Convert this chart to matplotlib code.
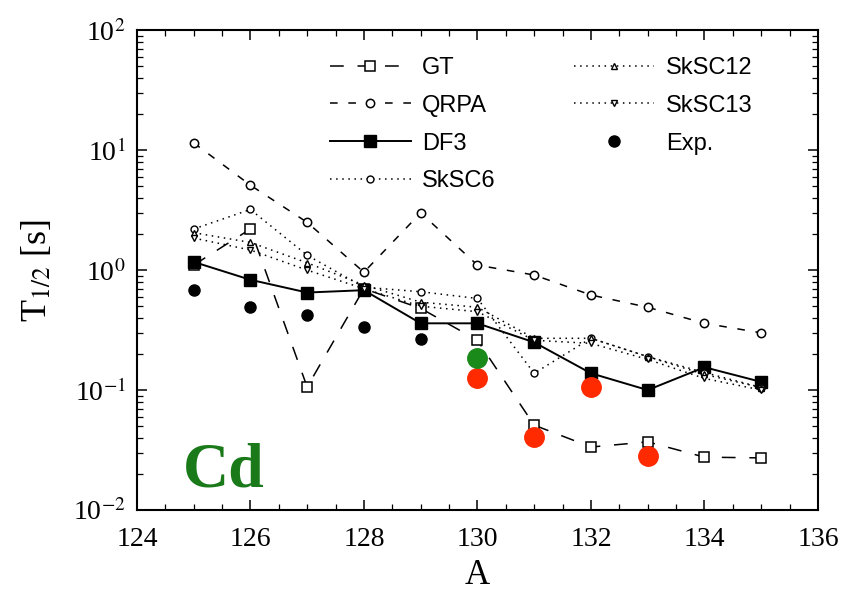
import numpy as np
import matplotlib
matplotlib.use("Agg")
import matplotlib.pyplot as plt
from matplotlib.ticker import LogLocator, NullFormatter, MultipleLocator

plt.rcParams['mathtext.fontset'] = 'stix'

# mass numbers of the Cd isotopes
A = [125, 126, 127, 128, 129, 130, 131, 132, 133, 134, 135]

# half-lives [s] from the different calculations
gt = [1.1, 2.2, 0.106, 0.7, 0.48, 0.26, 0.051, 0.0335, 0.037, 0.0276, 0.0272]
qrpa = [11.5, 5.1, 2.5, 0.96, 3.0, 1.1, 0.91, 0.62, 0.49, 0.36, 0.30]
df3 = [1.17, 0.83, 0.65, 0.68, 0.36, 0.36, 0.25, 0.138, 0.10, 0.155, 0.117]
sksc6 = [2.2, 3.2, 1.33, 0.72, 0.66, 0.58, 0.138, 0.27, 0.19, 0.14, 0.105]
sksc12 = [2.05, 1.7, 1.15, 0.75, 0.54, 0.49, 0.27, 0.27, 0.19, 0.135, 0.105]
sksc13 = [1.85, 1.47, 1.0, 0.70, 0.50, 0.45, 0.26, 0.245, 0.18, 0.125, 0.10]

# measured values
exp_A = [125, 126, 127, 128, 129]
exp_t = [0.68, 0.49, 0.42, 0.335, 0.266]

# newer measurements, drawn on top
new_A = [130, 131, 132, 133]
new_t = [0.126, 0.041, 0.106, 0.028]
green_A = [130]
green_t = [0.185]

fig = plt.figure(figsize=(8.45, 5.91), dpi=100)
ax = fig.add_axes([0.162, 0.137, 0.806, 0.812])

lw = 1.1
ax.plot(A, gt, color='black', lw=lw, ls=(0, (9, 9)), marker='s', ms=7,
        mfc='white', mec='black', mew=1.1, label='GT')
ax.plot(A, qrpa, color='black', lw=lw, ls=(0, (5, 7)), marker='o', ms=6,
        mfc='white', mec='black', mew=1.1, label='QRPA')
ax.plot(A, df3, color='black', lw=1.4, ls='-', marker='s', ms=8,
        mfc='black', mec='black', label='DF3')
ax.plot(A, sksc6, color='black', lw=lw, ls=(0, (1, 3)), marker='o', ms=5,
        mfc='white', mec='black', mew=1.0, label='SkSC6')
ax.plot(A, sksc12, color='black', lw=lw, ls=(0, (1, 3)), marker='^', ms=5,
        mfc='white', mec='black', mew=1.0, label='SkSC12')
ax.plot(A, sksc13, color='black', lw=lw, ls=(0, (1, 3)), marker='v', ms=5,
        mfc='white', mec='black', mew=1.0, label='SkSC13')
ax.plot(exp_A, exp_t, ls='none', marker='o', ms=8, color='black', label='Exp.')

ax.plot(new_A, new_t, ls='none', marker='o', ms=14, color='#ff2a00', zorder=5)
ax.plot(green_A, green_t, ls='none', marker='o', ms=14, color='#1a8a1a', zorder=5)

ax.set_yscale('log')
ax.set_xlim(124, 136)
ax.set_ylim(1e-2, 1e2)

ax.xaxis.set_major_locator(MultipleLocator(2))
ax.xaxis.set_minor_locator(MultipleLocator(0.5))
ax.yaxis.set_minor_locator(LogLocator(base=10, subs=np.arange(2, 10), numticks=10))
ax.yaxis.set_minor_formatter(NullFormatter())
ax.set_yticks([1e-2, 1e-1, 1e0, 1e1, 1e2])
ax.set_yticklabels(['10$^{-2}$', '10$^{-1}$', '10$^{0}$', '10$^{1}$', '10$^{2}$'])

ax.tick_params(which='both', direction='in', top=True, right=True)
ax.tick_params(which='major', length=7, width=1.1, labelsize=20)
ax.tick_params(axis='x', which='major', pad=12)
ax.tick_params(axis='y', which='major', pad=8)
ax.tick_params(which='minor', length=4, width=0.9)
for lab in ax.get_xticklabels() + ax.get_yticklabels():
    lab.set_family('Liberation Serif')
for sp in ax.spines.values():
    sp.set_linewidth(1.5)

ax.set_xlabel('A', family='Liberation Serif', fontsize=25, labelpad=5)
ax.set_ylabel('T$_{1/2}$ [s]', family='Liberation Serif', fontsize=26, labelpad=14)

ax.text(0.068, 0.048, 'Cd', transform=ax.transAxes, family='Liberation Serif',
        fontweight='bold', fontsize=46, color='#1a7a1a')

ax.legend(ncol=2, loc='upper left', bbox_to_anchor=(0.27, 0.964), frameon=False,
          prop={'family': 'Liberation Sans', 'size': 17}, handlelength=3.4,
          columnspacing=3.3, labelspacing=0.67, handletextpad=0.5,
          borderaxespad=0)

fig.savefig('out.png', dpi=100)
